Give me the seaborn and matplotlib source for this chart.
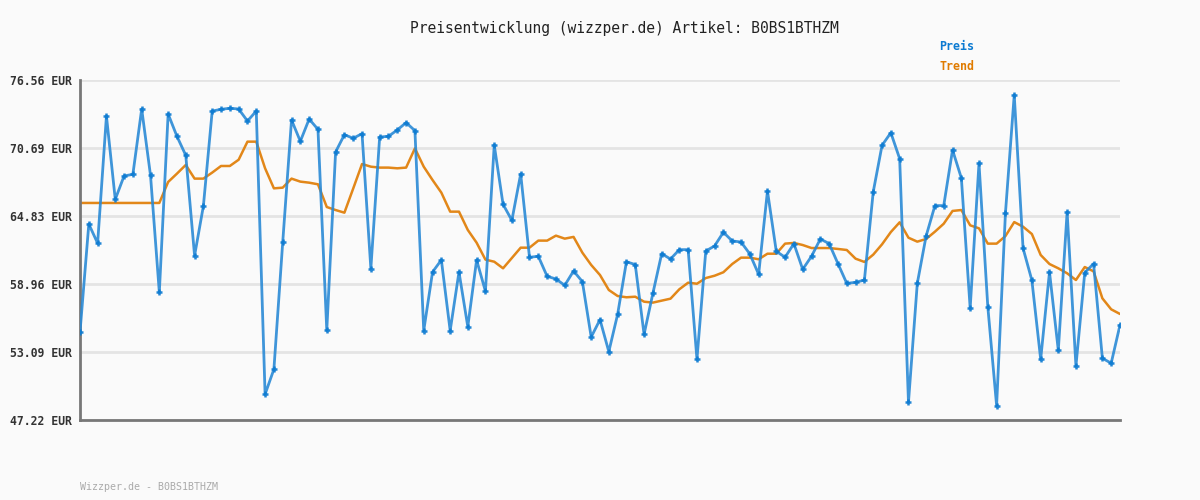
import numpy as np
import pandas as pd
import matplotlib
matplotlib.use("Agg")
import matplotlib.pyplot as plt
import seaborn as sns

# Preis values
preis = [
    54.79, 64.13, 62.47, 73.45, 66.26, 68.28, 68.42, 74.06, 68.33, 58.24,
    73.63, 71.70, 70.06, 61.40, 65.69, 73.88, 74.03, 74.12, 74.06, 73.02,
    73.88, 49.44, 51.60, 62.55, 73.11, 71.27, 73.19, 72.30, 54.96, 70.35,
    71.84, 71.53, 71.93, 60.29, 71.64, 71.70, 72.25, 72.88, 72.19, 54.93,
    59.99, 61.03, 54.93, 59.99, 55.27, 61.03, 58.33, 70.95, 65.83, 64.45,
    68.45, 61.26, 61.35, 59.62, 59.39, 58.84, 60.08, 59.16, 54.38, 55.88,
    53.12, 56.34, 60.88, 60.63, 54.61, 58.15, 61.57, 61.11, 61.92, 61.92,
    52.46, 61.80, 62.24, 63.42, 62.67, 62.58, 61.55, 59.79, 66.98, 61.78,
    61.26, 62.44, 60.22, 61.35, 62.84, 62.44, 60.71, 59.01, 59.10, 59.30,
    66.90, 70.92, 72.01, 69.77, 48.75, 59.01, 63.09, 65.72, 65.72, 70.52,
    68.10, 56.86, 69.37, 57.00, 48.46, 65.06, 75.27, 62.04, 59.28, 52.46,
    59.99, 53.23, 65.17, 51.88, 59.93, 60.71, 52.55, 52.12, 55.42,
]

# Trend values
trend = [
    65.95, 65.95, 65.95, 65.95, 65.95, 65.95, 65.95, 65.95, 65.95, 65.95,
    67.76, 68.48, 69.23, 68.05, 68.05, 68.57, 69.14, 69.14, 69.68, 71.24,
    71.24, 68.94, 67.21, 67.27, 68.05, 67.79, 67.70, 67.56, 65.60, 65.34,
    65.11, 67.20, 69.31, 69.08, 69.00, 69.00, 68.94, 69.00, 70.66, 69.08,
    67.93, 66.84, 65.20, 65.20, 63.62, 62.52, 61.06, 60.88, 60.31, 61.20,
    62.09, 62.09, 62.70, 62.70, 63.13, 62.87, 63.02, 61.66, 60.60, 59.73,
    58.44, 57.92, 57.81, 57.86, 57.43, 57.35, 57.52, 57.69, 58.50, 59.07,
    58.98, 59.47, 59.67, 59.97, 60.68, 61.23, 61.23, 61.09, 61.57, 61.57,
    62.44, 62.50, 62.32, 62.06, 62.06, 62.06, 61.98, 61.89, 61.14, 60.86,
    61.49, 62.38, 63.44, 64.28, 62.95, 62.61, 62.84, 63.47, 64.16, 65.26,
    65.34, 64.02, 63.76, 62.44, 62.44, 63.09, 64.30, 63.90, 63.27, 61.46,
    60.68, 60.31, 59.88, 59.30, 60.42, 60.05, 57.72, 56.77, 56.37,
]

y_ticks = [47.22, 53.09, 58.96, 64.83, 70.69, 76.56]
y_labels = ["47.22 EUR", "53.09 EUR", "58.96 EUR", "64.83 EUR", "70.69 EUR", "76.56 EUR"]

df = pd.DataFrame({"idx": np.arange(len(preis)), "Preis": preis, "Trend": trend})

sns.set_style("white")
plt.rcParams["font.family"] = ["DejaVu Sans Mono"]

blue = "#0b7ad1"
orange = "#e07b00"

fig = plt.figure(figsize=(12, 5), dpi=100, facecolor="#fafafa")
ax = fig.add_axes([80 / 1200, 80 / 500, 1040 / 1200, 340 / 500])
ax.set_facecolor("#fafafa")

# horizontal grid
for t in y_ticks:
    ax.axhline(t, color="#e4e4e4", lw=2, zorder=0)

sns.lineplot(data=df, x="idx", y="Trend", ax=ax, color=orange, lw=1.8, alpha=0.9, zorder=2)
sns.lineplot(data=df, x="idx", y="Preis", ax=ax, color="#2a8ad6", lw=2.0, alpha=0.9, zorder=3,
             marker="+", markersize=4, markeredgewidth=1.8, markeredgecolor=blue)

ax.set_xlim(0, len(preis) - 1)
ax.set_ylim(47.22, 76.56)
ax.set_yticks(y_ticks)
ax.set_yticklabels(y_labels, fontsize=8.3, fontweight="bold", color="#333333")
ax.set_xticks([])
ax.tick_params(axis="y", length=0, pad=6)
ax.set_xlabel("")
ax.set_ylabel("")

for s in ["top", "right"]:
    ax.spines[s].set_visible(False)
for s in ["left", "bottom"]:
    ax.spines[s].set_color("#777777")
    ax.spines[s].set_linewidth(2)

fig.text(0.52, 1 - 28 / 500, "Preisentwicklung (wizzper.de) Artikel: B0BS1BTHZM",
         ha="center", va="center", fontsize=10.5, color="#222222")
fig.text(939 / 1200, 1 - 47 / 500, "Preis", ha="left", va="center",
         fontsize=8.4, fontweight="bold", color=blue)
fig.text(939 / 1200, 1 - 67 / 500, "Trend", ha="left", va="center",
         fontsize=8.4, fontweight="bold", color=orange)
fig.text(80 / 1200, 1 - 487 / 500, "Wizzper.de - B0BS1BTHZM", ha="left", va="center",
         fontsize=7.2, color="#aaaaaa")

fig.savefig("out.png", dpi=100, facecolor="#fafafa")
